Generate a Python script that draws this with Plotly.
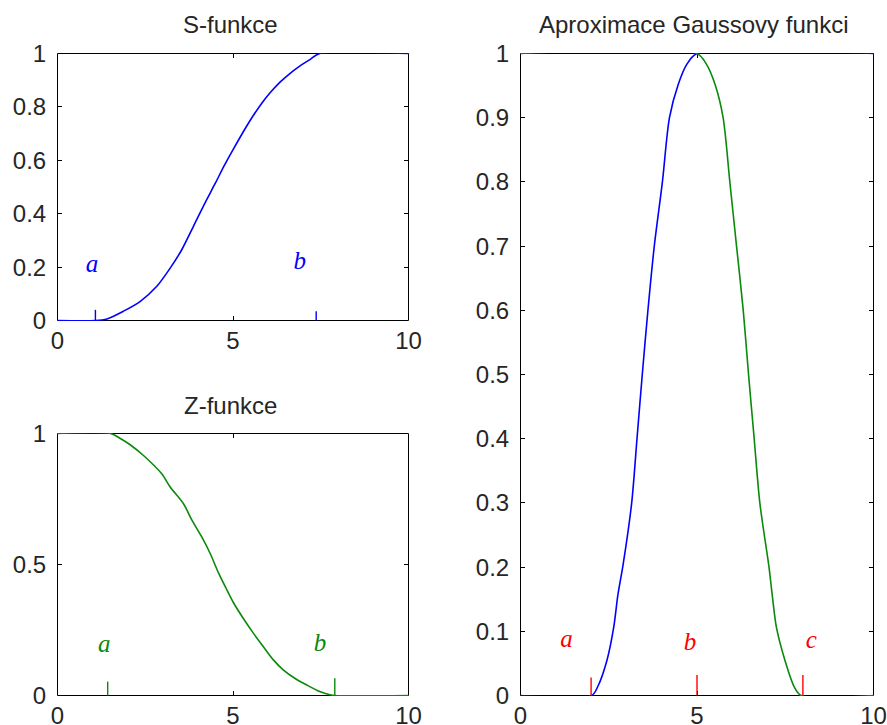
import plotly.graph_objects as go

W, H = 887, 725

# --- S-funkce (top left) ---
s_x = [0, 1.08, 1.41, 1.88, 2.36, 2.83, 3.21, 3.54, 3.87, 4.20, 4.50, 4.75, 5.01,
       5.29, 5.55, 5.81, 6.05, 6.34, 6.62, 6.86, 7.19, 7.47, 10]
s_y = [0, 0, 0.006, 0.035, 0.072, 0.128, 0.196, 0.265, 0.352, 0.44, 0.515, 0.58, 0.642,
       0.706, 0.762, 0.812, 0.852, 0.893, 0.925, 0.949, 0.977, 1.0, 1.0]
s_marks_x = [1.08, 7.37]
s_marks_h = [0.04, 0.035]
s_labels = ["a", "b"]
s_label_x = [0.98, 6.90]
s_label_y = [0.205, 0.215]

# --- Z-funkce (bottom left) ---
z_x = [0, 1.51, 1.79, 2.07, 2.45, 2.97, 3.21, 3.59, 3.83, 4.11, 4.35, 4.58, 4.80,
       5.01, 5.29, 5.58, 5.86, 6.15, 6.43, 6.76, 7.09, 7.47, 7.76, 7.90, 10]
z_y = [1, 1.0, 0.981, 0.957, 0.916, 0.846, 0.796, 0.732, 0.669, 0.605, 0.542, 0.47, 0.41,
       0.355, 0.295, 0.238, 0.187, 0.136, 0.098, 0.066, 0.041, 0.015, 0.003, 0, 0]
z_marks_x = [1.43, 7.90]
z_marks_h = [0.053, 0.066]
z_labels = ["a", "b"]
z_label_x = [1.33, 7.48]
z_label_y = [0.19, 0.195]

# --- Aproximace Gaussovy funkci (right) ---
g_rise_x = [0, 2.02, 2.19, 2.45, 2.64, 2.76, 2.91, 3.15, 3.30, 3.45, 3.61, 3.79,
            4.02, 4.22, 4.47, 4.71, 5.0, 10]
g_rise_y = [0, 0, 0.014, 0.055, 0.106, 0.157, 0.205, 0.3, 0.4, 0.5, 0.6, 0.7,
            0.8, 0.9, 0.952, 0.983, 1.0, 1.0]
g_fall_x = [0, 5.0, 5.27, 5.51, 5.74, 5.93, 6.12, 6.31, 6.46, 6.62, 6.78, 7.04,
            7.13, 7.25, 7.49, 7.75, 7.95, 10]
g_fall_y = [1, 1.0, 0.983, 0.952, 0.9, 0.8, 0.7, 0.6, 0.5, 0.4, 0.3, 0.2,
            0.157, 0.106, 0.055, 0.014, 0, 0]
g_marks_x = [2.0, 5.0, 8.0]
g_marks_h = [0.028, 0.032, 0.032]
g_labels = ["a", "b", "c"]
g_label_x = [1.30, 4.80, 8.24]
g_label_y = [0.086, 0.08, 0.083]

x_ticks = [0, 5, 10]
x_ticktext = ["0", "5", "10"]
s_yticks = [0, 0.2, 0.4, 0.6, 0.8, 1]
s_yticktext = ["0", "0.2", "0.4", "0.6", "0.8", "1"]
z_yticks = [0, 0.5, 1]
z_yticktext = ["0", "0.5", "1"]
g_yticks = [0, 0.1, 0.2, 0.3, 0.4, 0.5, 0.6, 0.7, 0.8, 0.9, 1]
g_yticktext = ["0", "0.1", "0.2", "0.3", "0.4", "0.5", "0.6", "0.7", "0.8", "0.9", "1"]

titles = ["S-funkce", "Z-funkce", "Aproximace Gaussovy funkci"]

BLUE = "#0000ff"
GREEN = "#0a8a0a"
RED = "#ff0000"
TXT = "#262626"

fig = go.Figure()


def curve(x, y, color, xa, ya):
    fig.add_trace(go.Scatter(x=x, y=y, mode="lines", xaxis=xa, yaxis=ya,
                             line=dict(color=color, width=1.6, shape="spline", smoothing=0.8),
                             hoverinfo="skip", showlegend=False))


def marks(xs, hs, color, xa, ya):
    for xv, hv in zip(xs, hs):
        fig.add_trace(go.Scatter(x=[xv, xv], y=[0, hv], mode="lines", xaxis=xa, yaxis=ya,
                                 line=dict(color=color, width=1.4),
                                 hoverinfo="skip", showlegend=False))


def labels(txt, xs, ys, color, xa, ya):
    fig.add_trace(go.Scatter(x=xs, y=ys, text=txt, mode="text", xaxis=xa, yaxis=ya,
                             textposition="middle center",
                             textfont=dict(family="Liberation Serif", size=25, color=color,
                                           style="italic"),
                             hoverinfo="skip", showlegend=False))


curve(s_x, s_y, BLUE, "x", "y")
marks(s_marks_x, s_marks_h, BLUE, "x", "y")
labels(s_labels, s_label_x, s_label_y, BLUE, "x", "y")

curve(z_x, z_y, GREEN, "x2", "y2")
marks(z_marks_x, z_marks_h, GREEN, "x2", "y2")
labels(z_labels, z_label_x, z_label_y, GREEN, "x2", "y2")

curve(g_rise_x, g_rise_y, BLUE, "x3", "y3")
curve(g_fall_x, g_fall_y, GREEN, "x3", "y3")
marks(g_marks_x, g_marks_h, RED, "x3", "y3")
labels(g_labels, g_label_x, g_label_y, RED, "x3", "y3")

tickfont = dict(family="Liberation Sans", size=24, color=TXT)
# transparent axis lines: the visible frame is a shape drawn under the curves
axis_common = dict(showline=True, linecolor="rgba(0,0,0,0)", linewidth=1, mirror="ticks",
                   ticks="inside", ticklen=5, tickwidth=1, tickcolor="black",
                   showgrid=False, zeroline=False, layer="below traces",
                   tickfont=tickfont, fixedrange=True, automargin=False)

# plot boxes in pixels: (left, right, top, bottom)
boxes = {"tl": (57, 409, 53, 321), "bl": (57, 409, 433, 696), "r": (520, 874, 53, 696)}


def dom(box):
    l, r, t, b = box
    return [l / W, r / W], [1 - b / H, 1 - t / H]


def padded(lo, hi, npx):
    # widen the range by half a pixel so lines lying on the frame are not clipped
    p = 0.5 * (hi - lo) / npx
    return [lo - p, hi + p]


axes = {}
for i, (key, yt, ytt) in enumerate([("tl", s_yticks, s_yticktext),
                                    ("bl", z_yticks, z_yticktext),
                                    ("r", g_yticks, g_yticktext)], start=1):
    box = boxes[key]
    xd, yd = dom(box)
    sfx = "" if i == 1 else str(i)
    axes["xaxis" + sfx] = dict(domain=xd, anchor="y" + sfx,
                               range=padded(0, 10, box[1] - box[0]),
                               tickvals=x_ticks, ticktext=x_ticktext,
                               ticklabelstandoff=-2, **axis_common)
    axes["yaxis" + sfx] = dict(domain=yd, anchor="x" + sfx,
                               range=padded(0, 1, box[3] - box[2]),
                               tickvals=yt, ticktext=ytt,
                               ticklabelstandoff=5, **axis_common)
    # black axes frame underneath the curves
    fig.add_shape(type="rect", xref="x" + sfx, yref="y" + sfx,
                  x0=x_ticks[0], x1=x_ticks[-1], y0=yt[0], y1=yt[-1],
                  line=dict(color="black", width=1), layer="below")

fig.update_layout(
    width=W, height=H,
    margin=dict(l=0, r=0, t=0, b=0, autoexpand=False),
    paper_bgcolor="white", plot_bgcolor="white",
    showlegend=False,
    **axes,
)

title_pos = [(231, 24), (231, 405), (693, 24)]
for t, (cx, cy) in zip(titles, title_pos):
    fig.add_annotation(text=t, x=cx / W, y=1 - cy / H, xref="paper", yref="paper",
                       xanchor="center", yanchor="middle", showarrow=False,
                       font=dict(family="Liberation Sans", size=24, color=TXT))

fig.write_html("out.html")
